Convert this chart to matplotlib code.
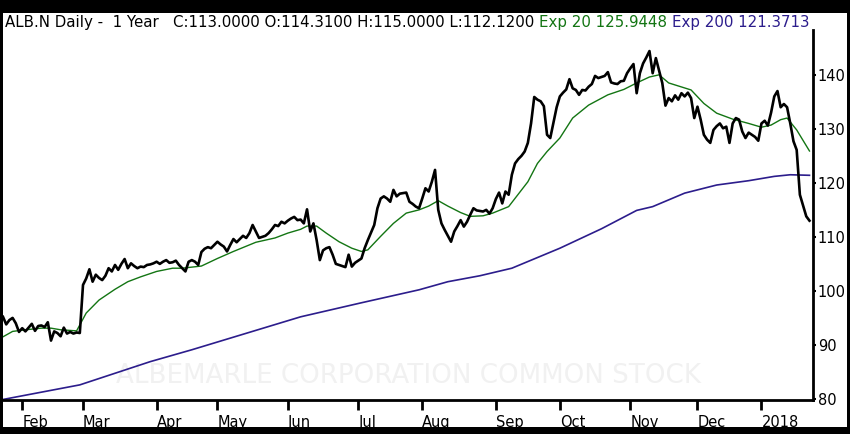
import matplotlib
matplotlib.use("Agg")
import matplotlib.pyplot as plt
from matplotlib.patches import Rectangle

# Daily closes, one per trading day (index 0 = 24 Jan 2017)
closes = [
    95.2, 93.8, 94.6, 95.0, 94.0, 92.4, 93.1, 92.5, 93.2, 93.9,
    92.6, 93.5, 93.6, 93.3, 94.2, 90.8, 92.5, 92.2, 91.6, 93.2,
    92.1, 92.4, 92.1, 92.3, 92.2, 101.1, 102.3, 104.0, 101.7, 103.0,
    102.4, 102.0, 102.8, 104.2, 103.6, 104.8, 103.9, 105.0, 105.9, 104.2,
    105.1, 104.6, 104.2, 104.5, 104.4, 104.8, 104.9, 105.1, 105.4, 105.0,
    105.4, 105.7, 105.2, 105.3, 105.6, 104.8, 104.2, 103.6, 105.4, 105.7,
    105.4, 104.8, 107.2, 107.8, 108.1, 107.9, 108.5, 109.1, 108.6, 108.2,
    107.3, 108.5, 109.6, 109.0, 109.6, 110.2, 109.8, 110.7, 112.2, 111.0,
    109.8, 110.0, 110.2, 110.7, 111.4, 112.2, 112.0, 112.8, 112.5, 113.0,
    113.4, 113.7, 113.1, 113.2, 112.5, 115.1, 111.0, 112.5, 109.4, 105.7,
    107.5, 107.9, 108.1, 106.7, 105.0, 104.8, 104.6, 104.4, 106.7, 104.5,
    105.2, 105.6, 106.0, 107.9, 109.4, 110.8, 112.2, 115.3, 117.1, 117.5,
    117.1, 116.5, 118.7, 117.5, 118.0, 118.1, 118.2, 116.5, 116.1, 115.6,
    115.3, 117.1, 119.0, 118.4, 120.2, 122.4, 115.0, 112.5, 111.3, 110.2,
    109.1, 111.0, 112.0, 113.1, 111.9, 112.8, 114.1, 115.3, 114.9, 114.8,
    114.7, 115.0, 114.3, 115.3, 117.0, 118.2, 116.2, 118.4, 117.8, 121.5,
    123.6, 124.4, 125.0, 125.8, 127.4, 131.0, 135.9, 135.4, 135.1, 134.2,
    128.9, 128.3, 131.2, 134.0, 136.0, 136.7, 137.3, 139.2, 137.5, 137.2,
    136.3, 137.2, 137.1, 137.8, 138.3, 139.8, 139.4, 139.6, 139.8, 140.5,
    138.6, 138.4, 138.3, 138.8, 138.9, 140.3, 141.2, 142.0, 136.6, 140.3,
    142.1, 143.2, 144.4, 140.3, 143.1, 140.8, 138.5, 134.3, 135.7, 135.1,
    136.2, 135.4, 136.6, 136.0, 136.7, 135.7, 132.0, 134.1, 131.7, 128.9,
    128.0, 127.4, 129.8, 130.5, 131.0, 130.1, 130.4, 127.4, 131.0, 132.0,
    131.7, 129.5, 128.3, 129.3, 128.9, 128.5, 127.8, 131.0, 131.5, 130.6,
    133.0, 136.0, 137.0, 134.0, 134.6, 134.0, 131.0, 127.7, 126.1, 117.8,
    115.8, 113.8, 113.0,
]

# Exp 20 average, read at selected trading days
ema20_day = [0, 3, 7, 12, 15, 18, 23, 26, 30, 35, 39, 43, 48, 53, 56, 62,
             67, 72, 79, 85, 89, 93, 95, 98, 101, 105, 109, 112, 114, 118,
             122, 126, 130, 133, 136, 139, 143, 146, 150, 153, 158, 164,
             167, 170, 174, 178, 183, 189, 194, 198, 202, 205, 208, 215,
             219, 223, 228, 233, 237, 240, 243, 245, 248, 252]
ema20_val = [91.5, 92.5, 92.8, 93.1, 93.1, 92.8, 92.6, 95.9, 98.3, 100.3,
             101.7, 102.6, 103.6, 104.2, 104.2, 104.6, 106.0, 107.3, 109.0,
             109.8, 110.7, 111.4, 112.0, 112.0, 110.7, 109.1, 107.9, 107.3,
             107.6, 110.1, 112.5, 114.4, 115.0, 115.7, 116.7, 115.7, 114.5,
             113.8, 113.9, 114.4, 115.6, 120.2, 123.6, 125.8, 128.3, 132.0,
             134.4, 136.3, 137.3, 138.5, 139.6, 140.0, 138.5, 137.2, 134.7,
             132.9, 131.8, 131.0, 130.3, 130.7, 131.7, 132.0, 129.8, 125.9]

# Exp 200 average, read at selected trading days
ema200_day = [0, 24, 46, 59, 93, 112, 130, 139, 149, 159, 174, 187, 198,
              203, 213, 223, 233, 241, 246, 252]
ema200_val = [79.9, 82.6, 86.9, 89.1, 95.2, 97.8, 100.2, 101.7, 102.8, 104.2,
              107.9, 111.5, 114.9, 115.6, 118.1, 119.6, 120.4, 121.2, 121.5,
              121.4]

month_days = [6, 25, 48, 67, 89, 111, 131, 154, 174, 196, 217, 237]
month_labels = ["Feb", "Mar", "Apr", "May", "Jun", "Jul", "Aug", "Sep",
                "Oct", "Nov", "Dec", "2018"]
price_ticks = [80, 90, 100, 110, 120, 130, 140]

green = "#137513"
purple = "#2c1d8c"
W, H = 850, 434

fig = plt.figure(figsize=(8.5, 4.34), dpi=100, facecolor="black")
# white panel inside the black frame
fig.patches.append(Rectangle((3 / W, 1 - 427 / H), 844 / W, 414 / H,
                             transform=fig.transFigure, facecolor="white",
                             edgecolor="none", zorder=-5))

ax = fig.add_axes([3 / W, 1 - 400 / H, 810 / W, 370 / H])
ax.set_zorder(2)
ax.set_facecolor("none")

days = range(len(closes))
ax.plot(ema200_day, ema200_val, color=purple, linewidth=1.2, zorder=2)
ax.plot(ema20_day, ema20_val, color=green, linewidth=1.0, zorder=3)
ax.plot(days, closes, color="black", linewidth=1.9, zorder=4)

ax.text(0.5, 0.065, "ALBEMARLE CORPORATION COMMON STOCK", transform=ax.transAxes,
        ha="center", va="center", fontsize=18.8, color="#f1f1f1", zorder=1)

ax.set_xlim(0, 253.1)
ax.set_ylim(79.8, 148.3)

for side in ["left", "top"]:
    ax.spines[side].set_visible(False)
for side in ["right", "bottom"]:
    ax.spines[side].set_linewidth(2)
    ax.spines[side].set_color("black")

ax.yaxis.tick_right()
ax.set_yticks(price_ticks)
ax.set_yticklabels([str(v) for v in price_ticks])
ax.tick_params(axis="y", length=2, width=1.5, pad=1.5, labelsize=10.5)

ax.set_xticks(month_days)
ax.set_xticklabels(month_labels, ha="left")
ax.tick_params(axis="x", length=7.5, width=2, pad=3.5, labelsize=10.5)

# header line with three coloured parts
renderer = fig.canvas.get_renderer()
parts = [("ALB.N Daily -  1 Year   C:113.0000 O:114.3100 H:115.0000 L:112.1200 ", "black"),
         ("Exp 20 125.9448 ", green),
         ("Exp 200 121.3713", purple)]
x = 5 / W
for txt, col in parts:
    t = fig.text(x, 1 - 27 / H, txt, color=col, fontsize=10.8, va="baseline")
    bb = t.get_window_extent(renderer)
    x += bb.width / W

fig.savefig("out.png", dpi=100, facecolor="black")
